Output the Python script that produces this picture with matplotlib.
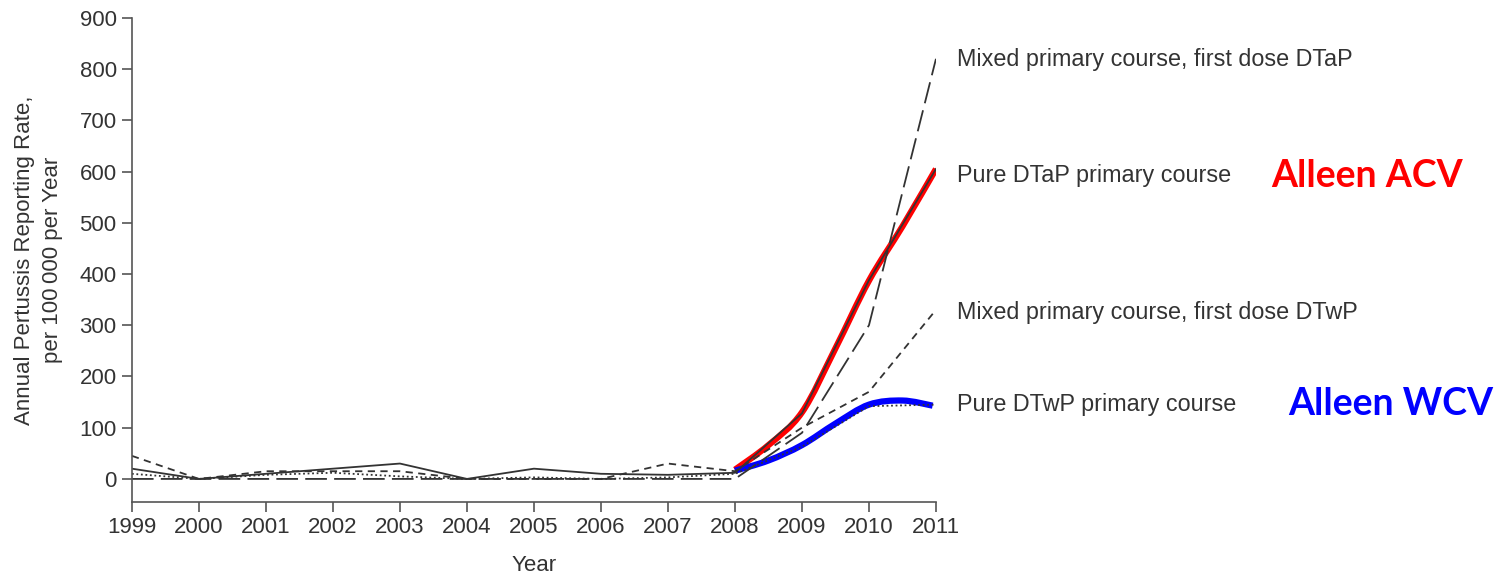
import matplotlib.pyplot as plt
import numpy as np
from matplotlib.path import Path
from matplotlib.patches import PathPatch

years = [1999, 2000, 2001, 2002, 2003, 2004, 2005, 2006, 2007, 2008, 2009, 2010, 2011]
mixed_dtap = [0, 0, 0, 0, 0, 0, 0, 0, 0, 0, 90, 300, 820]
pure_dtap = [20, 0, 10, 20, 30, 0, 20, 10, 8, 12, 128, 388, 605]
mixed_dtwp = [45, 0, 15, 15, 15, 0, 0, 0, 30, 15, 100, 170, 330]
pure_dtwp = [10, 0, 8, 12, 5, 0, 3, 0, 3, 10, 63, 142, 145]

labels = ["Mixed primary course, first dose DTaP", "Pure DTaP primary course",
          "Mixed primary course, first dose DTwP", "Pure DTwP primary course"]
label_y = [818, 592, 324, 146]

# smooth overlays drawn by hand on top of the figure
acv_years = [2008, 2008.5, 2009, 2009.5, 2010, 2010.5, 2011]
acv_rate = [18, 66, 130, 255, 387, 493, 605]
wcv_years = [2008, 2008.5, 2009, 2009.5, 2010, 2010.5, 2010.95]
wcv_rate = [16, 36, 66, 108, 145, 153, 143]

grey = "#333333"
plt.rcParams['font.family'] = ['Liberation Sans', 'DejaVu Sans']


def smooth_path(xs, ys):
    # Catmull-Rom through the points, as cubic Bezier segments
    p = np.column_stack([xs, ys]).astype(float)
    p = np.vstack([p[0], p, p[-1]])
    verts = [p[1]]
    codes = [Path.MOVETO]
    for i in range(1, len(p) - 2):
        c1 = p[i] + (p[i + 1] - p[i - 1]) / 6
        c2 = p[i + 1] - (p[i + 2] - p[i]) / 6
        verts += [c1, c2, p[i + 1]]
        codes += [Path.CURVE4] * 3
    return Path(verts, codes)


fig = plt.figure(figsize=(14.99, 5.75), dpi=100)
ax = fig.add_axes([0.088, 0.127, 0.5364, 0.842])

ax.plot(years, mixed_dtap, color=grey, lw=1.3, dashes=(12, 4))
ax.plot(years, pure_dtap, color=grey, lw=1.3)
ax.plot(years, mixed_dtwp, color=grey, lw=1.3, dashes=(4, 3))
ax.plot(years, pure_dtwp, color=grey, lw=1.3, dashes=(1, 1.5))

ax.add_patch(PathPatch(smooth_path(acv_years, acv_rate), fill=False,
                       edgecolor="#ff0000", lw=4.5, capstyle='butt'))
ax.add_patch(PathPatch(smooth_path(wcv_years, wcv_rate), fill=False,
                       edgecolor="#0000ff", lw=4.5, capstyle='butt'))

for lab, y in zip(labels, label_y):
    ax.text(2011.31, y, lab, fontsize=16.8, color=grey, va='center', ha='left', clip_on=False)

ax.text(2016.0, 592, "Alleen ACV", fontsize=27, color="#ff0000", fontweight='bold',
        family='Lato', va='center', ha='left', clip_on=False)
ax.text(2016.25, 146, "Alleen WCV", fontsize=27, color="#0000ff", fontweight='bold',
        family='Lato', va='center', ha='left', clip_on=False)

ax.set_xlim(1999, 2011)
ax.set_ylim(-45, 900)
ax.set_xticks(years)
ax.set_yticks(np.arange(0, 901, 100))
ax.tick_params(direction='out', length=7, width=1.2, color="#555555",
               labelsize=16, labelcolor=grey, pad=4)
for s in ['top', 'right']:
    ax.spines[s].set_visible(False)
for s in ['left', 'bottom']:
    ax.spines[s].set_color("#555555")
    ax.spines[s].set_linewidth(1.2)

ax.set_xlabel("Year", fontsize=16, color=grey, labelpad=12)
ax.set_ylabel("Annual Pertussis Reporting Rate,\nper 100\u2009000 per Year", fontsize=16,
              color=grey, labelpad=12, linespacing=1.45)

fig.savefig("out.png", dpi=100)
